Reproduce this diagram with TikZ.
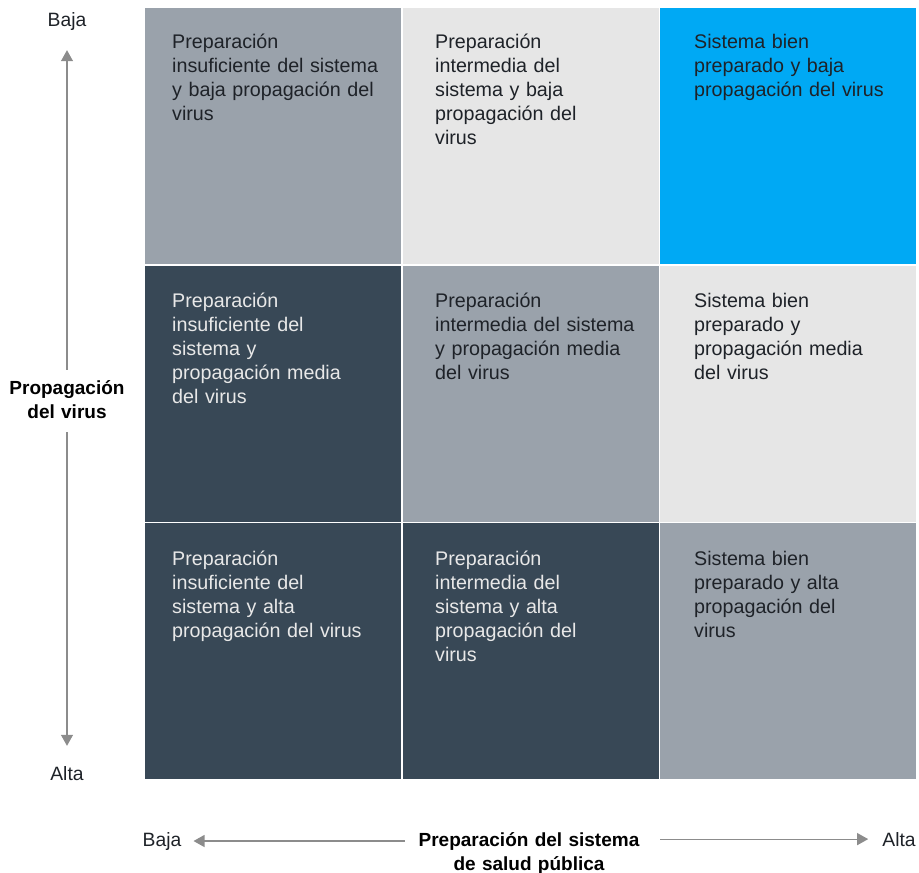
\documentclass[tikz,border=0pt]{standalone}
\usepackage{fontspec}
\setmainfont{Liberation Sans}
\usetikzlibrary{arrows.meta}

\definecolor{cellgray}{HTML}{9AA2AB}
\definecolor{celllight}{HTML}{E6E6E6}
\definecolor{celldark}{HTML}{384856}
\definecolor{cellblue}{HTML}{00A9F4}
\definecolor{inkdark}{HTML}{1E2228}
\definecolor{inklight}{HTML}{E8E8E8}
\definecolor{axisgray}{HTML}{8C8C8C}

\tikzset{
    cell/.style={rectangle, inner sep=0pt, anchor=north west,
        minimum width=256pt, minimum height=256pt},
    celltext/.style={inner sep=0pt, anchor=base west, text width=230pt,
        align=left, font=\fontsize{19.7}{24}\selectfont, text=inkdark},
    axislabel/.style={inner sep=0pt, anchor=base, text width=240pt,
        align=center, font=\fontsize{19}{24}\selectfont\bfseries, text=black},
    tick/.style={inner sep=0pt, anchor=base,
        font=\fontsize{19.3}{24}\selectfont, text=inkdark},
    axis/.style={draw=axisgray, line width=1.2pt,
        -{Triangle[length=11pt, width=12pt]}, color=axisgray}
}

\begin{document}
\begin{tikzpicture}[x=1pt, y=-1pt]
        \useasboundingbox (0,0) rectangle (919,873);

        % Cells
        \node[cell, fill=cellgray]  at (145, 8)      (c11) {};
        \node[cell, fill=celllight] at (402.5, 8)    (c21) {};
        \node[cell, fill=cellblue]  at (660, 8)      (c31) {};
        \node[cell, fill=celldark]  at (145, 265.5)  (c12) {};
        \node[cell, fill=cellgray]  at (402.5, 265.5)(c22) {};
        \node[cell, fill=celllight] at (660, 265.5)  (c32) {};
        \node[cell, fill=celldark]  at (145, 523)    (c13) {};
        \node[cell, fill=celldark]  at (402.5, 523)  (c23) {};
        \node[cell, fill=cellgray]  at (660, 523)    (c33) {};

        % Cell texts
        \node[celltext] at (172, 48)  (t11) {Preparación\\insuficiente del sistema\\y baja propagación del\\virus};
        \node[celltext] at (435, 48)  (t21) {Preparación\\intermedia del\\sistema y baja\\propagación del\\virus};
        \node[celltext] at (694, 48)  (t31) {Sistema bien\\preparado y baja\\propagación del virus};
        \node[celltext, text=inklight] at (172, 307) (t12) {Preparación\\insuficiente del\\sistema y\\propagación media\\del virus};
        \node[celltext] at (435, 307) (t22) {Preparación\\intermedia del sistema\\y propagación media\\del virus};
        \node[celltext] at (694, 307) (t32) {Sistema bien\\preparado y\\propagación media\\del virus};
        \node[celltext, text=inklight] at (172, 565) (t13) {Preparación\\insuficiente del\\sistema y alta\\propagación del virus};
        \node[celltext, text=inklight] at (435, 565) (t23) {Preparación\\intermedia del\\sistema y alta\\propagación del\\virus};
        \node[celltext] at (694, 565) (t33) {Sistema bien\\preparado y alta\\propagación del\\virus};

        % Vertical axis
        \node[tick] at (67, 26)  (bajaV) {Baja};
        \node[tick] at (67, 780) (altaV) {Alta};
        \node[axislabel, text width=130pt] at (67, 394) (propag) {Propagación\\del virus};

        \draw[axis] ([yshift=10pt]propag.north -| bajaV) -- ([yshift=-20pt]bajaV.south);
        \draw[axis] ([yshift=-14pt]propag.south -| altaV) -- ([yshift=20pt]altaV.north);

        % Horizontal axis
        \node[tick] at (162, 846) (bajaH) {Baja};
        \node[tick] at (899, 846) (altaH) {Alta};
        \node[axislabel] at (529, 846) (prep) {Preparación del sistema\\de salud pública};

        \draw[axis] ([xshift=-4pt]prep.west |- bajaH) -- ([xshift=12pt]bajaH.east);
        \draw[axis] ([xshift=11pt]prep.east |- altaH) -- ([xshift=-14pt]altaH.west);
    \end{tikzpicture}
\end{document}
